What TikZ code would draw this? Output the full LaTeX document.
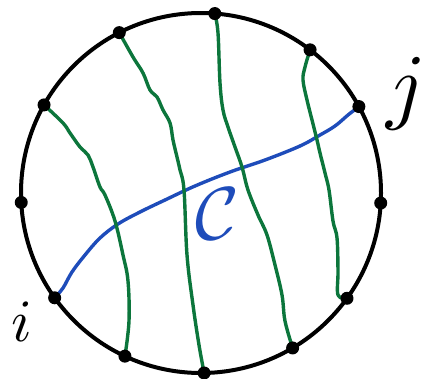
\documentclass[tikz,border=0pt]{standalone}
\usetikzlibrary{calc}
\definecolor{strandgreen}{RGB}{12,118,60}
\definecolor{chordblue}{RGB}{30,76,186}
\begin{document}
\begin{tikzpicture}[x=1pt,y=-1pt,
  rim/.style={line width=4pt},
  strand/.style={strandgreen,line width=3.4pt,line cap=round,line join=round},
  chord/.style={chordblue,line width=3.4pt,line cap=round,line join=round},
  marked/.style={circle,fill=black,inner sep=0pt,minimum size=13pt}]
  \useasboundingbox (0,0) rectangle (430,378);
  \coordinate (c) at (201,193);
  \draw[rim] (c) circle[radius=180pt];
  % points on the boundary, counterclockwise from the top left
  \foreach \ang [count=\k] in {117,85.6,52.7,28.7,-3.2,-35.8,-59.4,-89,-115,-144.4,183,150.7}
    \coordinate (v\k) at ($(c)+(\ang:180pt)$);
  % the chord C from i to j
  \draw[chord] plot[smooth,tension=0.6] coordinates {(v10) (63,288) (72,272) (85,255)
    (100,238) (118,224) (140,212) (165,200) (195,186) (230,172) (265,160)
    (300,146) (320,135) (335,126) (348,115) (v4)};
  % green strands
  \draw[strand] plot[smooth,tension=0.6] coordinates {(v12) (63,123) (70,133) (80,147)
    (88,155) (93,167) (100,187) (105,195) (115,221) (123,255) (128,281)
    (129,321) (v9)};
  \draw[strand] plot[smooth,tension=0.6] coordinates {(v1) (133,57) (143,73) (150,90)
    (157,97) (163,110) (170,123) (173,140) (177,157) (180,170) (184,190)
    (187,255) (193,305) (199,345) (v8)};
  \draw[strand] plot[smooth,tension=0.6] coordinates {(v2) (218,33) (220,83) (223,110)
    (228,127) (235,147) (242,167) (248,190) (258,215) (267,235) (275,265)
    (282,295) (285,321) (v7)};
  \draw[strand] plot[smooth,tension=0.6] coordinates {(v3) (305,67) (303,80) (307,100)
    (312,120) (317,140) (320,153) (325,173) (329,190) (333,221) (337,238)
    (338,271) (338,295) (v6)};
  % dots on top
  \foreach \k in {1,...,12}
    \node[marked] (m\k) at (v\k) {};
  % labels
  \node[chordblue,scale=7.5] (lblc) at (217,214) {$\mathcal{C}$};
  \node[scale=6] (lbli) at (22,322) {$i$};
  \node[scale=8.5] (lblj) at (406,94) {$j$};
\end{tikzpicture}
\end{document}
